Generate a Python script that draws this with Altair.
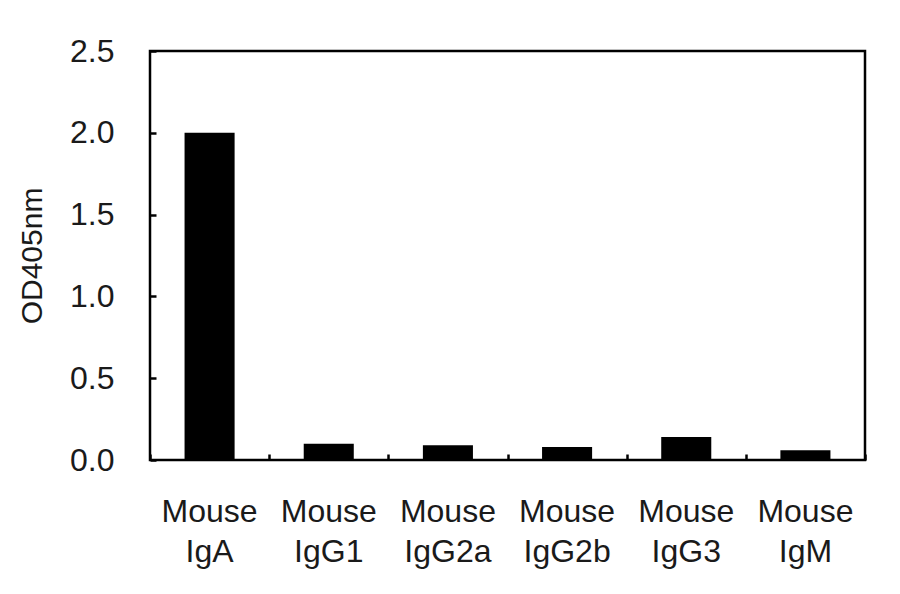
import altair as alt
import pandas as pd

categories = ["Mouse IgA", "Mouse IgG1", "Mouse IgG2a", "Mouse IgG2b", "Mouse IgG3", "Mouse IgM"]
od405 = [2.00, 0.10, 0.09, 0.08, 0.14, 0.06]
y_ticks = [0.0, 0.5, 1.0, 1.5, 2.0, 2.5]

df = pd.DataFrame({"cat": categories, "od": od405})

FONT = "Liberation Sans"

y_enc = alt.Y(
    "od:Q",
    title="OD405nm",
    scale=alt.Scale(domain=[0, 2.5], nice=False),
    axis=alt.Axis(
        values=y_ticks,
        format=".1f",
        labelFont=FONT,
        labelFontSize=32,
        labelColor="#1a1a1a",
        labelPadding=36,
        tickSize=6,
        tickWidth=2.5,
        tickColor="black",
        offset=-6,
        domain=False,
        grid=False,
        titleFont=FONT,
        titleFontSize=30,
        titleFontWeight="normal",
        titleColor="#1a1a1a",
        titlePadding=22,
    ),
)

bars = alt.Chart(df).mark_bar(color="black").encode(
    x=alt.X(
        "cat:N",
        sort=categories,
        title=None,
        scale=alt.Scale(paddingInner=0.58, paddingOuter=0.29),
        axis=alt.Axis(
            orient="bottom",
            labelAngle=0,
            labelExpr="split(datum.value, ' ')",
            labelFont=FONT,
            labelFontSize=32,
            labelColor="#1a1a1a",
            labelLineHeight=40,
            labelPadding=36,
            ticks=False,
            domain=False,
            grid=False,
        ),
    ),
    y=y_enc,
)

tick_layer = alt.Chart(df).mark_bar(opacity=0).encode(
    x=alt.X(
        "cat:N",
        sort=categories,
        title=None,
        scale=alt.Scale(paddingInner=0, paddingOuter=0),
        axis=alt.Axis(
            orient="bottom",
            labels=False,
            tickBand="extent",
            tickSize=6,
            tickWidth=2.5,
            tickColor="black",
            offset=-6,
            domain=False,
            grid=False,
        ),
    ),
    y=alt.Y("od:Q"),
)

chart = alt.layer(bars, tick_layer).resolve_scale(x="independent").properties(
    width=715,
    height=409,
    padding={"left": 9, "top": 27, "right": 10, "bottom": 10},
).configure_view(
    stroke="black",
    strokeWidth=2.5,
)

chart.save("out.html", embed_options={"renderer": "svg", "actions": False})
